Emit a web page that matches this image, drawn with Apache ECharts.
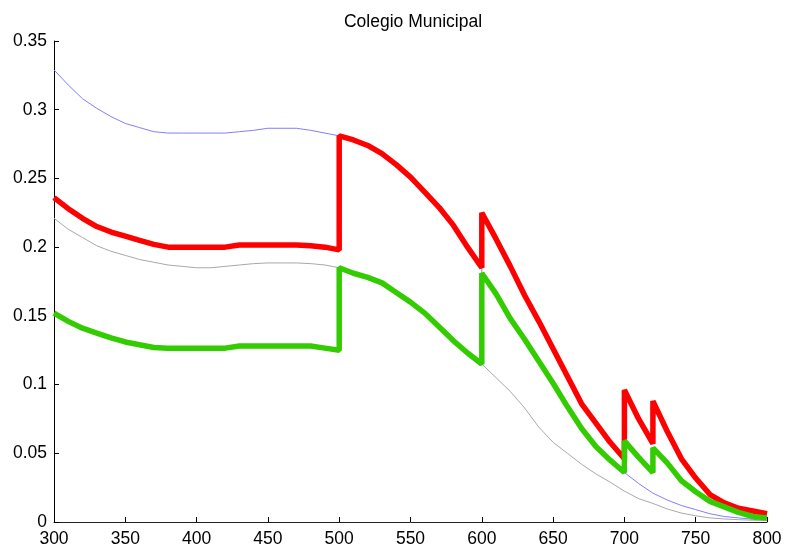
<!DOCTYPE html>
<html>
<head>
<meta charset="utf-8">
<script src="https://cdn.jsdelivr.net/npm/echarts@6/dist/echarts.min.js"></script>
<style>html,body{margin:0;padding:0;background:#fff}#c{width:785px;height:552px}</style>
</head>
<body>
<div id="c"></div>
<script>
const xValues = [300,310,320,330,340,350,360,370,380,390,400,410,420,430,440,450,460,470,480,490,500,
  500,510,520,530,540,550,560,570,580,590,600,
  600,610,620,630,640,650,660,670,680,690,700,
  700,710,720,
  720,730,740,750,760,770,780,790,800];

const blueValues = [0.329,0.318,0.308,0.301,0.295,0.290,0.287,0.284,0.283,0.283,0.283,0.283,0.283,0.284,0.285,0.2865,0.2865,0.2865,0.285,0.283,0.281,
  0.281,0.278,0.274,0.268,0.260,0.251,0.240,0.229,0.216,0.200,0.185,
  0.181,0.166,0.148,0.133,0.117,0.101,0.084,0.068,0.055,0.045,0.036,
  0.036,0.028,0.021,
  0.021,0.016,0.012,0.009,0.006,0.004,0.003,0.002,0.001];

const grayValues = [0.221,0.213,0.207,0.201,0.197,0.194,0.191,0.189,0.187,0.186,0.185,0.185,0.186,0.187,0.188,0.1885,0.1885,0.1885,0.188,0.187,0.185,
  0.185,0.181,0.178,0.174,0.167,0.160,0.152,0.142,0.132,0.123,0.115,
  0.114,0.105,0.095,0.083,0.069,0.058,0.050,0.042,0.035,0.029,0.0225,
  0.0225,0.017,0.0135,
  0.0135,0.0095,0.0065,0.0045,0.003,0.0022,0.0017,0.0013,0.001];

const redValues = [0.236,0.228,0.221,0.215,0.211,0.208,0.205,0.202,0.200,0.200,0.200,0.200,0.200,0.2015,0.2015,0.2015,0.2015,0.2015,0.201,0.200,0.198,
  0.281,0.278,0.274,0.268,0.260,0.251,0.240,0.229,0.216,0.200,0.185,
  0.225,0.206,0.186,0.165,0.146,0.126,0.106,0.086,0.072,0.058,0.046,
  0.096,0.075,0.057,
  0.088,0.066,0.046,0.032,0.020,0.014,0.010,0.008,0.006];

const greenValues = [0.152,0.146,0.141,0.1375,0.134,0.131,0.129,0.127,0.1265,0.1265,0.1265,0.1265,0.1265,0.128,0.128,0.128,0.128,0.128,0.128,0.1265,0.125,
  0.185,0.181,0.178,0.174,0.167,0.160,0.152,0.142,0.132,0.123,0.115,
  0.181,0.166,0.148,0.133,0.117,0.101,0.084,0.068,0.055,0.045,0.036,
  0.059,0.047,0.036,
  0.054,0.043,0.030,0.022,0.015,0.011,0.007,0.004,0.003];

const yTickLabels = ['0','0.05','0.1','0.15','0.2','0.25','0.3','0.35'];

function pairs(ys){ return xValues.map((x,i)=>[x, ys[i]]); }

const chart = echarts.init(document.getElementById('c'), null, {renderer:'canvas'});
const fontFamily = '"Liberation Sans", Arial, sans-serif';
const lineCommon = {type:'line', showSymbol:false, smooth:false};
chart.setOption({
  animation: false,
  backgroundColor: '#fff',
  title: {
    text: 'Colegio Municipal',
    left: 408, top: 8, textAlign: 'center',
    textStyle: {fontFamily, fontSize: 17.5, fontWeight: 'normal', color: '#000'}
  },
  grid: {left: 54, right: 18, top: 41, bottom: 30, containLabel: false},
  xAxis: {
    type: 'value', min: 300, max: 800, interval: 50,
    axisLine: {show: true, lineStyle: {color: '#222', width: 1}},
    axisTick: {show: true, inside: true, length: 5, lineStyle: {color: '#000'}},
    axisLabel: {fontFamily, fontSize: 17.5, color: '#000', margin: 8},
    splitLine: {show: false}
  },
  yAxis: {
    type: 'value', min: 0, max: 0.35, interval: 0.05,
    axisLine: {show: true, lineStyle: {color: '#000', width: 1}},
    axisTick: {show: true, inside: true, length: 5, lineStyle: {color: '#000'}},
    axisLabel: {fontFamily, fontSize: 17.5, color: '#000', margin: 7,
      formatter: (v)=> yTickLabels[Math.round(v/0.05)]},
    splitLine: {show: false}
  },
  series: [
    Object.assign({data: pairs(blueValues), lineStyle:{color:'#7f7fff', width:1}, z:1}, lineCommon),
    Object.assign({data: pairs(grayValues), lineStyle:{color:'#a8a8a8', width:1}, z:1}, lineCommon),
    Object.assign({data: pairs(redValues), lineStyle:{color:'#ff0000', width:5.5}, z:2}, lineCommon),
    Object.assign({data: pairs(greenValues), lineStyle:{color:'#33cc00', width:5.5}, z:3}, lineCommon)
  ]
});
</script>
</body>
</html>
